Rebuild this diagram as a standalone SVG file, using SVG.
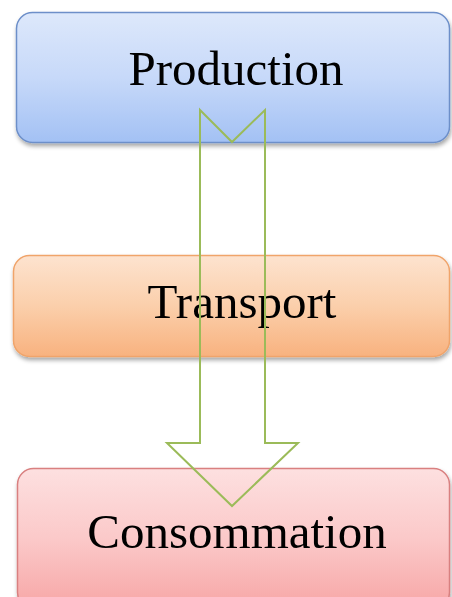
<svg xmlns="http://www.w3.org/2000/svg" width="452" height="597" viewBox="0 0 452 597">
<style>
.lbl{font-family:"Liberation Serif","Times New Roman",serif;font-size:49px;fill:#000;text-anchor:middle}
.box{stroke-width:1.5}
.conn{fill:none;stroke:#9bbb59;stroke-width:2;stroke-linejoin:miter}
</style>
<defs>
<linearGradient id="gB" x1="0" y1="0" x2="0" y2="1"><stop offset="0" stop-color="#dde8fb"/><stop offset="0.5" stop-color="#c7d9f9"/><stop offset="1" stop-color="#a3c1f4"/></linearGradient>
<linearGradient id="gO" x1="0" y1="0" x2="0" y2="1"><stop offset="0" stop-color="#fde3cf"/><stop offset="0.5" stop-color="#fbcfab"/><stop offset="1" stop-color="#f8b27f"/></linearGradient>
<linearGradient id="gR" x1="0" y1="0" x2="0" y2="1"><stop offset="0" stop-color="#fde0e0"/><stop offset="0.5" stop-color="#fbc9c9"/><stop offset="1" stop-color="#f7a6a6"/></linearGradient>
<filter id="sh" x="-10%" y="-10%" width="130%" height="140%"><feDropShadow dx="1" dy="3" stdDeviation="2" flood-color="#000" flood-opacity="0.35"/></filter>
</defs>
<g id="production">
<rect class="box" x="16.5" y="12.5" width="433" height="130" rx="16" fill="url(#gB)" stroke="#6d8fc9" filter="url(#sh)"/>
<text class="lbl" x="236" y="85">Production</text>
</g>
<g id="transport">
<rect class="box" x="13.5" y="255.5" width="436" height="101" rx="16" fill="url(#gO)" stroke="#f0a46b" filter="url(#sh)"/>
<text class="lbl" x="242" y="318">Transport</text>
</g>
<g id="consommation">
<rect class="box" x="17.5" y="468.5" width="432" height="140" rx="16" fill="url(#gR)" stroke="#d98080" filter="url(#sh)"/>
<text class="lbl" x="237" y="548">Consommation</text>
</g>
<g id="connectors">
<path class="conn" d="M200,110 L232,142 L265,110 L265,443 L298,443 L232,506 L167,443 L200,443 Z"/>
</g>
</svg>
